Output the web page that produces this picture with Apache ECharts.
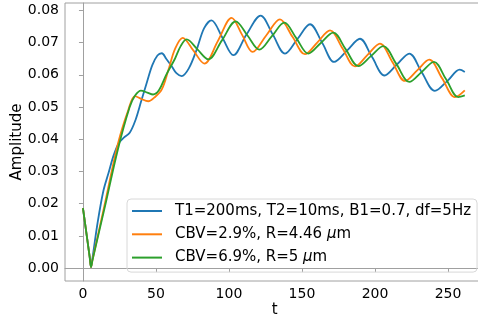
<!DOCTYPE html>
<html><head><meta charset="utf-8">
<script src="https://cdn.jsdelivr.net/npm/echarts@6/dist/echarts.min.js"></script>
<style>html,body{margin:0;padding:0;background:#fff}#c{width:478px;height:320px}</style>
</head><body><div id="c"></div>
<script>
const seriesNames = ["T1=200ms, T2=10ms, B1=0.7, df=5Hz", "CBV=2.9%, R=4.46 μm", "CBV=6.9%, R=5 μm"];
const xTicks = [0, 50, 100, 150, 200, 250];
const yTicks = [0.00, 0.01, 0.02, 0.03, 0.04, 0.05, 0.06, 0.07, 0.08];

const blueT = [0, 4.6, 5.5, 6.5, 10, 14, 17.5, 21, 24.5, 28, 32, 36, 40, 44, 47.5, 51, 54, 57, 61, 64, 67.6, 72.5, 78, 83, 88, 95.5, 103, 112, 121.7, 130, 138.4, 147, 155.5, 164, 172, 181, 189.7, 198, 206.5, 215, 223.5, 232, 241, 250, 258, 261.5];
const blueV = [0.0186, 0.0035, 0.0003, 0.003, 0.014, 0.024, 0.0295, 0.035, 0.0388, 0.0405, 0.042, 0.046, 0.052, 0.058, 0.063, 0.066, 0.0667, 0.065, 0.0625, 0.0605, 0.0596, 0.062, 0.068, 0.0745, 0.0769, 0.0715, 0.0661, 0.0725, 0.0784, 0.0725, 0.0666, 0.0712, 0.0757, 0.0698, 0.0640, 0.0676, 0.0712, 0.0655, 0.0598, 0.0632, 0.0666, 0.0608, 0.0550, 0.0583, 0.0616, 0.0609];

const orangeT = [0, 4.6, 5.5, 6.5, 15, 24, 31, 35.6, 40, 44.7, 49, 54, 58.5, 63, 68.3, 75.7, 83.1, 92.5, 101.8, 109, 116.2, 125.5, 134.9, 143.5, 152, 160.6, 169.2, 177.8, 186.3, 194.9, 203.4, 212, 220.5, 228.9, 237.2, 246, 254.8, 261.5];
const orangeV = [0.0186, 0.0035, 0.0003, 0.0025, 0.020, 0.0387, 0.049, 0.0534, 0.0525, 0.0518, 0.053, 0.0555, 0.0615, 0.068, 0.0715, 0.0675, 0.0635, 0.0706, 0.0777, 0.0724, 0.0671, 0.0722, 0.0772, 0.0718, 0.0664, 0.0701, 0.0738, 0.0682, 0.0626, 0.0662, 0.0697, 0.0639, 0.0581, 0.0614, 0.0647, 0.0589, 0.0531, 0.0552];

const greenT = [0, 4.6, 5.5, 6.5, 15, 24, 32, 35.6, 39.7, 44, 48, 52, 57, 63, 67, 71, 78.4, 85.8, 95.2, 104.6, 112.7, 120.8, 129.4, 137.9, 146.1, 154.3, 162.9, 171.4, 180, 188.6, 197.2, 205.7, 214.6, 223.5, 232, 240.4, 248.7, 257, 261.5];
const greenV = [0.0186, 0.0035, 0.0003, 0.0024, 0.019, 0.037, 0.050, 0.0535, 0.0551, 0.0545, 0.0539, 0.0552, 0.060, 0.065, 0.069, 0.0710, 0.0679, 0.0648, 0.0707, 0.0766, 0.0722, 0.0678, 0.0720, 0.0762, 0.0714, 0.0666, 0.0699, 0.0731, 0.0679, 0.0627, 0.0658, 0.0689, 0.0634, 0.0578, 0.0609, 0.0640, 0.0586, 0.0531, 0.0536];

const colors = ['#1f77b4', '#ff7f0e', '#2ca02c'];
const zip = (a, b) => a.map((t, i) => [t, b[i]]);
const font = 'DejaVu Sans';

const chart = echarts.init(document.getElementById('c'), null, {renderer: 'canvas'});
chart.setOption({
  animation: false,
  color: colors,
  textStyle: {fontFamily: font},
  grid: {left: 65, top: 3, width: 419.5, bottom: 39, outerBoundsMode: 'none', containLabel: false,
    show: true, borderColor: '#a0a0a0', borderWidth: 1},
  xAxis: {
    type: 'value', min: -12.3, max: 275,
    name: 't', nameLocation: 'middle', nameGap: 22, nameMoveOverlap: false,
    nameTextStyle: {fontSize: 15, color: '#000', fontFamily: font},
    axisLine: {show: true, lineStyle: {color: '#a0a0a0'}},
    axisTick: {show: true, customValues: xTicks, length: 4, lineStyle: {color: '#a0a0a0'}},
    axisLabel: {customValues: xTicks, fontSize: 14, color: '#000', fontFamily: font, margin: 6},
    splitLine: {show: false}
  },
  yAxis: {
    type: 'value', min: -0.004, max: 0.0823,
    name: 'Amplitude', nameLocation: 'middle', nameGap: 40, nameMoveOverlap: false,
    nameTextStyle: {fontSize: 15, color: '#000', fontFamily: font},
    axisLine: {show: true, lineStyle: {color: '#a0a0a0'}},
    axisTick: {show: true, customValues: yTicks, length: 4, lineStyle: {color: '#a0a0a0'}},
    axisLabel: {customValues: yTicks, fontSize: 14, color: '#000', fontFamily: font, margin: 6,
      formatter: v => v.toFixed(2)},
    splitLine: {show: false}
  },
  legend: {
    orient: 'vertical', left: 127, top: 199,
    padding: [4.5, 6, 7, 5], itemGap: 8.3, itemWidth: 30, itemHeight: 15,
    icon: 'path://M0,0H30V2H0Z', symbolKeepAspect: true,
    borderColor: '#d8d8d8', borderWidth: 1, borderRadius: 4,
    formatter: name => {
      const parts = name.split('μ');
      return parts.length > 1 ? '{a|' + parts[0] + '}{i|μ}{a|' + parts[1] + '}' : '{a|' + name + '}';
    },
    textStyle: {fontSize: 15, color: '#000', fontFamily: font, padding: [0, 0, 0, 8],
      rich: {
        a: {fontSize: 15, color: '#000', fontFamily: font},
        i: {fontSize: 15, color: '#000', fontFamily: font, fontStyle: 'italic'}
      }},
    data: seriesNames
  },
  series: [
    {name: seriesNames[0], type: 'line', data: zip(blueT, blueV), smooth: 0.35, symbol: 'none', lineStyle: {width: 1.8}, z: 2},
    {name: seriesNames[1], type: 'line', data: zip(orangeT, orangeV), smooth: 0.35, symbol: 'none', lineStyle: {width: 1.8}, z: 3},
    {name: seriesNames[2], type: 'line', data: zip(greenT, greenV), smooth: 0.35, symbol: 'none', lineStyle: {width: 1.8}, z: 4}
  ]
});
</script>
</body></html>
